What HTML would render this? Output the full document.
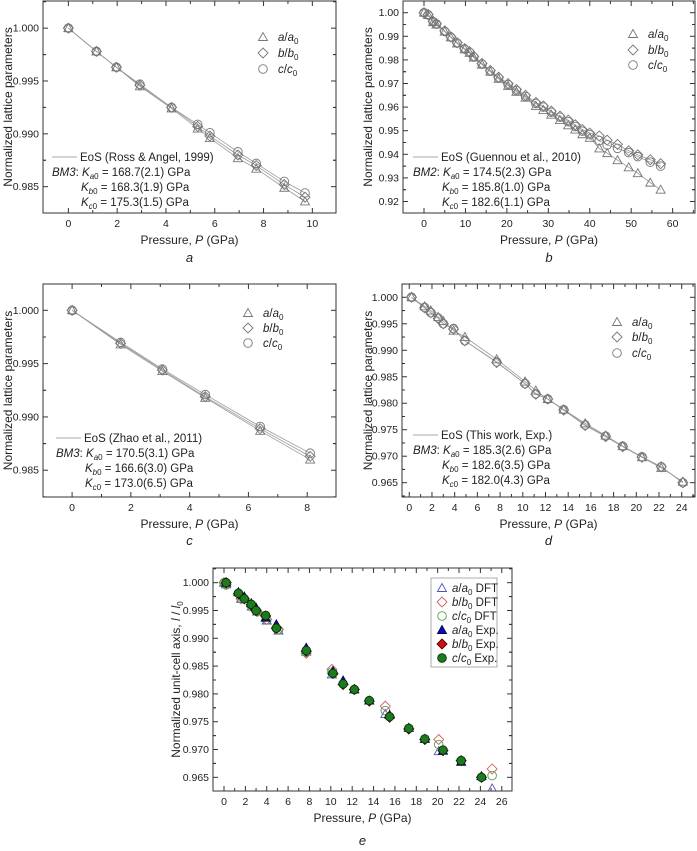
<!DOCTYPE html>
<html><head><meta charset="utf-8"><style>
html,body{margin:0;padding:0;background:#fff;}
svg{display:block;font-family:"Liberation Sans",Arial,sans-serif;}
</style></head><body>
<svg id="fig" width="697" height="851" viewBox="0 0 697 851" xmlns="http://www.w3.org/2000/svg"></svg>
<script>
// ---- Panel a data (Ross & Angel 1999) ----
const aP = [0,1.15,1.97,2.93,4.23,5.3,5.8,6.95,7.7,8.85,9.7];
const aA = [1,0.9978,0.9963,0.9945,0.9924,0.9905,0.9896,0.9877,0.9867,0.9849,0.9836];
const aB = [1,0.9978,0.9963,0.9946,0.9925,0.9907,0.9898,0.9880,0.9870,0.9852,0.9840];
const aC = [1,0.9978,0.9963,0.9947,0.9925,0.9909,0.9901,0.9883,0.9872,0.9855,0.9844];
// ---- Panel b data (Guennou et al. 2010) ----
const bP = [0,1,2.2,3,5,6.5,8,9.8,11,12,14,16,18,20.3,22.3,24.5,27,28.8,30.7,32.8,34.8,36.5,38.2,40,42.3,44.2,46.7,49.4,51.6,54.6,57.1];
const bA = [1,0.999,0.996,0.995,0.992,0.9895,0.987,0.9845,0.983,0.981,0.978,0.975,0.972,0.969,0.9665,0.964,0.9605,0.9588,0.9568,0.9545,0.9523,0.9505,0.9485,0.947,0.9425,0.9405,0.9375,0.9345,0.932,0.928,0.925];
const bB = [1,0.9992,0.9963,0.9953,0.9923,0.9898,0.9873,0.9848,0.9835,0.9815,0.9785,0.9755,0.9727,0.9700,0.9675,0.9650,0.9620,0.9605,0.9583,0.9562,0.9545,0.9525,0.9505,0.9490,0.9478,0.946,0.9442,0.9415,0.9398,0.9377,0.936];
const bC = [1,0.9991,0.9962,0.9952,0.9921,0.9896,0.9871,0.9846,0.9832,0.9812,0.9782,0.9752,0.9723,0.9695,0.9670,0.9645,0.9615,0.9600,0.9578,0.9557,0.9538,0.9518,0.9498,0.9483,0.9458,0.944,0.9425,0.9407,0.939,0.9367,0.935];
// ---- Panel c data (Zhao et al. 2011) ----
const cP = [0,1.65,3.07,4.53,6.4,8.1];
const cA = [1,0.9968,0.9943,0.9918,0.9887,0.9860];
const cB = [1,0.9969,0.9944,0.9919,0.9889,0.9863];
const cC = [1,0.9970,0.9945,0.9921,0.9891,0.9866];
// ---- Panel d data (This work, Exp.) ----
const dP = [0.2,1.35,1.9,2.55,3.0,3.9,4.9,7.7,10.2,11.15,12.2,13.6,15.5,17.3,18.8,20.5,22.2,24.1];
const dA = [1,0.9983,0.9975,0.9963,0.9955,0.9937,0.9925,0.9883,0.9841,0.9824,0.9808,0.9788,0.9762,0.9739,0.9719,0.9698,0.9678,0.9652];
const dB = [1,0.9980,0.9971,0.9960,0.9950,0.9940,0.9918,0.9877,0.9837,0.9817,0.9808,0.9787,0.9758,0.9737,0.9718,0.9698,0.9680,0.9650];
const dC = [1,0.9981,0.9971,0.9961,0.9950,0.9941,0.9918,0.9878,0.9837,0.9818,0.9808,0.9788,0.9759,0.9738,0.9719,0.9699,0.9680,0.9650];
// ---- Panel e DFT data ----
const eP = [0,0.2,1.6,2.6,3.1,4,5.1,7.7,10.1,15.1,20.1,25.1];
const eA = [1,0.9997,0.9971,0.9957,0.9948,0.9932,0.9914,0.9876,0.9835,0.9764,0.9697,0.9630];
const eB = [1,0.9997,0.9971,0.9958,0.9948,0.9934,0.9916,0.9873,0.9844,0.9778,0.9718,0.9665];
const eC = [1,0.9996,0.9971,0.9957,0.9948,0.9933,0.9915,0.9875,0.9839,0.9770,0.9709,0.9653];
// tick values
const aXT=[0,2,4,6,8,10], aYT=[0.985,0.990,0.995,1.000];
const bXT=[0,10,20,30,40,50,60], bYT=[0.92,0.93,0.94,0.95,0.96,0.97,0.98,0.99,1.00];
const cXT=[0,2,4,6,8], cYT=[0.985,0.990,0.995,1.000];
const dXT=[0,2,4,6,8,10,12,14,16,18,20,22,24], dYT=[0.965,0.970,0.975,0.980,0.985,0.990,0.995,1.000];
const eXT=dXT.concat([26]), eYT=dYT;

const NS="http://www.w3.org/2000/svg";
const fig=document.getElementById('fig');
function mk(tag,attrs,parent){const e=document.createElementNS(NS,tag);for(const k in attrs)e.setAttribute(k,attrs[k]);(parent||fig).appendChild(e);return e;}

function marker(g,shape,x,y,stroke,fill){
  let e;
  if(shape==='tri'){e=mk('polygon',{points:`${x},${y-4.5} ${x-4.5},${y+3.5} ${x+4.5},${y+3.5}`,stroke:stroke,fill:fill,'stroke-width':0.9},g);}
  else if(shape==='dia'){e=mk('polygon',{points:`${x},${y-5} ${x+5},${y} ${x},${y+5} ${x-5},${y}`,stroke:stroke,fill:fill,'stroke-width':0.9},g);}
  else {e=mk('circle',{cx:x,cy:y,r:4.3,stroke:stroke,fill:fill,'stroke-width':0.9},g);}
  return e;
}

function panel(c){
  const g=mk('g',{});
  
  
  const X=v=>c.L+(v-c.x0)/(c.x1-c.x0)*(c.R-c.L);
  const Y=v=>c.B-(v-c.y0)/(c.y1-c.y0)*(c.B-c.T);
  const fr=mk('rect',{x:c.L,y:c.T,width:c.R-c.L,height:c.B-c.T,fill:'none',stroke:'#333','stroke-width':1},g);
  
  
  // x ticks
  const xs=c.xt[1]-c.xt[0];
  c.xt.forEach((v,i)=>{
    const x=X(v);
    mk('line',{x1:x,y1:c.B,x2:x,y2:c.B-5,stroke:'#333'},g);
    mk('line',{x1:x,y1:c.T,x2:x,y2:c.T+5,stroke:'#333'},g);
    const t=mk('text',{x:x,y:c.B+14,'font-size':10.5,'text-anchor':'middle',fill:'#222'},g);t.textContent=String(v);
    
    
    const m=X(v+xs/2);
    if(m<c.R){mk('line',{x1:m,y1:c.B,x2:m,y2:c.B-3,stroke:'#333'},g);mk('line',{x1:m,y1:c.T,x2:m,y2:c.T+3,stroke:'#333'},g);}
  });
  const ys=c.yt[1]-c.yt[0];
  c.yt.forEach(v=>{
    const y=Y(v);
    mk('line',{x1:c.L,y1:y,x2:c.L+5,y2:y,stroke:'#333'},g);
    mk('line',{x1:c.R,y1:y,x2:c.R-5,y2:y,stroke:'#333'},g);
    const t=mk('text',{x:c.L-4,y:y+3.5,'font-size':10.5,'text-anchor':'end',fill:'#222'},g);t.textContent=v.toFixed(c.dec);
    
    
    [v-ys/2,v+ys/2].forEach(m=>{const my=Y(m);if(my>c.T&&my<c.B){mk('line',{x1:c.L,y1:my,x2:c.L+3,y2:my,stroke:'#333'},g);mk('line',{x1:c.R,y1:my,x2:c.R-3,y2:my,stroke:'#333'},g);}});
  });
  // titles
  const xt=mk('text',{x:(c.L+c.R)/2,y:c.B+31,'font-size':12,'text-anchor':'middle',fill:'#222'},g);
  xt.innerHTML='Pressure, <tspan font-style="italic">P</tspan> (GPa)';
  
  
  const yc=(c.T+c.B)/2;
  const yt=mk('text',{x:c.ytx,y:yc,'font-size':12,'text-anchor':'middle',fill:'#222',transform:`rotate(-90 ${c.ytx} ${yc})`},g);
  yt.innerHTML=c.ytitle;
  
  
  const lb=mk('text',{x:(c.L+c.R)/2,y:c.lblY,'font-size':13,'font-style':'italic','text-anchor':'middle',fill:'#222'},g);
  lb.textContent=c.id;
  
  
  // clip
  const clip=mk('clipPath',{id:'clip'+c.id},g);
  mk('rect',{x:c.L,y:c.T,width:c.R-c.L,height:c.B-c.T},clip);
  const pg=mk('g',{'clip-path':`url(#clip${c.id})`},g);
  // series
  c.series.forEach(s=>{
    if(s.line){
      const pl=mk('polyline',{points:s.P.map((p,i)=>X(p)+','+Y(s.V[i])).join(' '),fill:'none',stroke:'#9a9a9a','stroke-width':0.8},pg);
      
      
    }
  });
  c.series.forEach(s=>{
    s.P.forEach((p,i)=>{
      const m=marker(pg,s.shape,X(p),Y(s.V[i]),s.stroke,s.fill);
      
      
    });
  });
  return g;
}

const grey='#777';
const ytNorm='Normalized lattice parameters';
panel({id:'a',L:43,R:336,T:1,B:213,x0:-1.04,x1:10.97,y0:0.98251,y1:1.00257,xt:aXT,yt:aYT,dec:3,ytx:12,ytitle:ytNorm,lblY:262,
  series:[{key:'a',P:aP,V:aA,shape:'tri',stroke:grey,fill:'none',line:1},{key:'b',P:aP,V:aB,shape:'dia',stroke:grey,fill:'none',line:1},{key:'c',P:aP,V:aC,shape:'circ',stroke:grey,fill:'none',line:1}]});
panel({id:'b',L:403,R:695,T:1,B:213,x0:-5.07,x1:65.4,y0:0.91513,y1:1.00496,xt:bXT,yt:bYT,dec:2,ytx:372,ytitle:ytNorm,lblY:262,
  series:[{key:'a',P:bP,V:bA,shape:'tri',stroke:grey,fill:'none',line:1},{key:'b',P:bP,V:bB,shape:'dia',stroke:grey,fill:'none',line:1},{key:'c',P:bP,V:bC,shape:'circ',stroke:grey,fill:'none',line:1}]});
panel({id:'c',L:43,R:336,T:284,B:497,x0:-0.99,x1:8.98,y0:0.98249,y1:1.00247,xt:cXT,yt:cYT,dec:3,ytx:12,ytitle:ytNorm,lblY:545,
  series:[{key:'a',P:cP,V:cA,shape:'tri',stroke:grey,fill:'none',line:1},{key:'b',P:cP,V:cB,shape:'dia',stroke:grey,fill:'none',line:1},{key:'c',P:cP,V:cC,shape:'circ',stroke:grey,fill:'none',line:1}]});
panel({id:'d',L:402,R:695,T:284,B:497,x0:-0.64,x1:25.17,y0:0.9623,y1:1.00251,xt:dXT,yt:dYT,dec:3,ytx:372,ytitle:ytNorm,lblY:545,
  series:[{key:'a',P:dP,V:dA,shape:'tri',stroke:grey,fill:'none',line:1},{key:'b',P:dP,V:dB,shape:'dia',stroke:grey,fill:'none',line:1},{key:'c',P:dP,V:dC,shape:'circ',stroke:grey,fill:'none',line:1}]});
panel({id:'e',L:213,R:512,T:568,B:791,x0:-1.03,x1:26.96,y0:0.96254,y1:1.00264,xt:eXT,yt:eYT,dec:3,ytx:180,
  ytitle:'Normalized unit-cell axis, <tspan font-style="italic">l</tspan> / <tspan font-style="italic">l</tspan><tspan font-size="8" dy="3">0</tspan>',lblY:845,
  series:[{key:'a-dft',P:eP,V:eA,shape:'tri',stroke:'#5050c0',fill:'none'},{key:'b-dft',P:eP,V:eB,shape:'dia',stroke:'#d06060',fill:'none'},{key:'c-dft',P:eP,V:eC,shape:'circ',stroke:'#50a050',fill:'none'},
  {key:'a-exp',P:dP,V:dA,shape:'tri',stroke:'#000060',fill:'#0a10b0'},{key:'b-exp',P:dP,V:dB,shape:'dia',stroke:'#500000',fill:'#d01010'},{key:'c-exp',P:dP,V:dC,shape:'circ',stroke:'#003000',fill:'#1e7a1e'}]});

// legends
function lab(ch){return `<tspan font-style="italic">${ch}</tspan>/<tspan font-style="italic">${ch}</tspan><tspan font-size="8" dy="3">0</tspan>`;}
function legend(id,mx,tx,ys,entries){
  entries.forEach((en,i)=>{
    const m=marker(fig,en.shape,mx,ys[i],en.stroke,en.fill);
    
    
    const t=mk('text',{x:tx,y:ys[i]+4,'font-size':11.5,fill:'#222'});
    t.innerHTML=lab(en.ch)+(en.suf?'<tspan dy="-3"> '+en.suf+'</tspan>':'');
    
    
  });
}
const open3=[{shape:'tri',ch:'a',stroke:grey,fill:'none'},{shape:'dia',ch:'b',stroke:grey,fill:'none'},{shape:'circ',ch:'c',stroke:grey,fill:'none'}];
legend('a',263,278,[37,53,69],open3);
legend('b',633,648,[34,50,65],open3);
legend('c',248,263,[313,328,343],open3);
legend('d',617,632,[322,337,353],open3);
const lbox=mk('rect',{x:431,y:578,width:66,height:89,fill:'#fff',stroke:'#999','stroke-width':0.8});


legend('e',442,452,[588,602,616,630,644,658],[
 {shape:'tri',ch:'a',stroke:'#5050c0',fill:'none',suf:'DFT'},{shape:'dia',ch:'b',stroke:'#d06060',fill:'none',suf:'DFT'},{shape:'circ',ch:'c',stroke:'#50a050',fill:'none',suf:'DFT'},
 {shape:'tri',ch:'a',stroke:'#000060',fill:'#0a10b0',suf:'Exp.'},{shape:'dia',ch:'b',stroke:'#500000',fill:'#d01010',suf:'Exp.'},{shape:'circ',ch:'c',stroke:'#003000',fill:'#1e7a1e',suf:'Exp.'}]);

// EoS annotation blocks
function eos(id,lx,y0,src,bm,k){
  const l=mk('line',{x1:lx,y1:y0-4,x2:lx+25,y2:y0-4,stroke:'#aaa','stroke-width':1});
  
  
  const t=mk('text',{x:lx+28,y:y0,'font-size':11.5,fill:'#222'});t.textContent='EoS ('+src+')';
  
  
  const ch=['a','b','c'];
  for(let i=0;i<3;i++){
    const tt=mk('text',{x:i===0?lx:lx+29,y:y0+15*(i+1),'font-size':11.5,fill:'#222'});
    tt.innerHTML=(i===0?`<tspan font-style="italic">${bm}</tspan>: `:'')+`<tspan font-style="italic">K</tspan><tspan font-size="8" dy="3"><tspan font-style="italic">${ch[i]}</tspan>0</tspan><tspan dy="-3"> = ${k[i]} GPa</tspan>`;
    
    
  }
}
eos('a',52,161,'Ross &amp; Angel, 1999'.replace('&amp;','&'),'BM3',['168.7(2.1)','168.3(1.9)','175.3(1.5)']);
eos('b',413,161,'Guennou et al., 2010','BM2',['174.5(2.3)','185.8(1.0)','182.6(1.1)']);
eos('c',56,442,'Zhao et al., 2011','BM3',['170.5(3.1)','166.6(3.0)','173.0(6.5)']);
eos('d',413,439,'This work, Exp.','BM3',['185.3(2.6)','182.6(3.5)','182.0(4.3)']);
</script>
</body></html>
